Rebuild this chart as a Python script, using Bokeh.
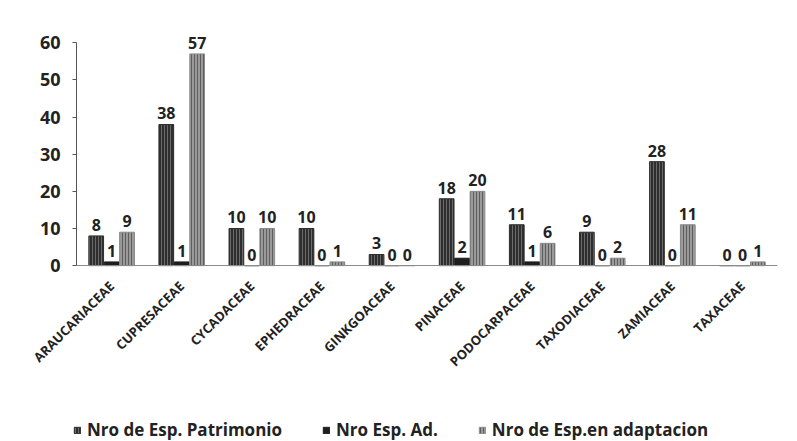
import math
from bokeh.plotting import figure
from bokeh.models import ColumnDataSource, Legend, LegendItem, FixedTicker
from bokeh.transform import dodge
from bokeh.core.properties import value
from bokeh.embed import file_html
from bokeh.resources import INLINE

categories = ["ARAUCARIACEAE", "CUPRESACEAE", "CYCADACEAE", "EPHEDRACEAE", "GINKGOACEAE",
              "PINACEAE", "PODOCARPACEAE", "TAXODIACEAE", "ZAMIACEAE", "TAXACEAE"]
patrimonio = [8, 38, 10, 10, 3, 18, 11, 9, 28, 0]
esp_ad = [1, 1, 0, 0, 0, 2, 1, 0, 0, 0]
adaptacion = [9, 57, 10, 1, 0, 20, 6, 2, 11, 1]
series_names = ["Nro de Esp. Patrimonio", "Nro Esp. Ad.", "Nro de Esp.en adaptacion"]
y_ticks = [0, 10, 20, 30, 40, 50, 60]

src = ColumnDataSource(dict(cat=categories, a=patrimonio, b=esp_ad, c=adaptacion,
                            la=[str(v) for v in patrimonio],
                            lb=[str(v) for v in esp_ad],
                            lc=[str(v) for v in adaptacion]))

# a blank leading factor gives room on the left for the rotated category labels
x_factors = [" "] + categories

p = figure(x_range=x_factors, y_range=(-47.35, 66), frame_width=771, frame_height=421,
           output_backend="svg", toolbar_location=None,
           min_border_left=6, min_border_right=12, min_border_top=20, min_border_bottom=0)
p.outline_line_color = None
p.xgrid.grid_line_color = None
p.ygrid.grid_line_color = None
p.background_fill_color = "white"
p.border_fill_color = "white"

w = 0.21
r1 = p.vbar(x=dodge("cat", -0.22, range=p.x_range), top="a", width=w, source=src,
            fill_color="#2e2e2e", line_color="#2e2e2e",
            hatch_pattern="vertical_line", hatch_color="#6a6a6a", hatch_scale=3, hatch_weight=1)
r2 = p.vbar(x=dodge("cat", 0.0, range=p.x_range), top="b", width=w, source=src,
            fill_color="#1e1e1e", line_color="#1e1e1e")
r3 = p.vbar(x=dodge("cat", 0.22, range=p.x_range), top="c", width=w, source=src,
            fill_color="#9a9a9a", line_color="#8a8a8a",
            hatch_pattern="vertical_line", hatch_color="#5e5e5e", hatch_scale=3, hatch_weight=1)

for col, lab, off in (("a", "la", -0.22), ("b", "lb", 0.0), ("c", "lc", 0.22)):
    p.text(x=dodge("cat", off, range=p.x_range), y=col, text=lab, source=src,
           text_align="center", text_baseline="bottom", y_offset=-5,
           text_font=value("Open Sans"), text_font_style="bold",
           text_font_size="16px", text_color="#222222")

p.yaxis.fixed_location = 1.0
p.yaxis.ticker = FixedTicker(ticks=y_ticks)
p.yaxis.bounds = (0, 60)
p.yaxis.axis_line_color = "#555555"
p.yaxis.major_tick_line_color = "#555555"
p.yaxis.major_tick_out = 4
p.yaxis.major_tick_in = 0
p.yaxis.minor_tick_line_color = None
p.yaxis.major_label_text_font = "Open Sans"
p.yaxis.major_label_text_font_size = "18px"
p.yaxis.major_label_text_font_style = "bold"
p.yaxis.major_label_text_color = "#222222"
p.yaxis.major_label_standoff = 12

p.xaxis.fixed_location = 0
p.xaxis.bounds = (1.0, 11.0)
p.xaxis.axis_line_color = "#8a8a8a"
p.xaxis.major_tick_line_color = None
p.xaxis.minor_tick_line_color = None
p.xaxis.major_label_orientation = math.pi / 4
p.xaxis.major_label_text_font = "Open Sans"
p.xaxis.major_label_text_font_size = "13px"
p.xaxis.major_label_text_font_style = "bold"
p.xaxis.major_label_text_color = "#222222"
p.xaxis.major_label_standoff = 12

legend = Legend(items=[LegendItem(label=series_names[0], renderers=[r1]),
                       LegendItem(label=series_names[1], renderers=[r2]),
                       LegendItem(label=series_names[2], renderers=[r3])],
                orientation="horizontal", location=(67, 0),
                glyph_width=8, glyph_height=8, label_standoff=6, spacing=40,
                padding=0, margin=0, border_line_color=None, background_fill_alpha=0,
                label_text_font="Open Sans", label_text_font_size="17px",
                label_text_font_style="bold", label_text_color="#222222")
p.add_layout(legend, "center")

open("out.html", "w").write(file_html(p, INLINE))
